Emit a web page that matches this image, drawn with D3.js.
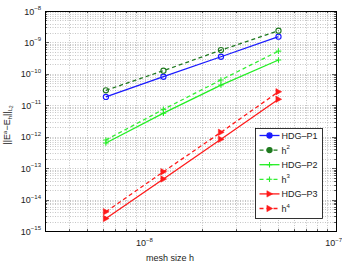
<!DOCTYPE html>
<html>
<head>
<meta charset="utf-8">
<script src="https://cdn.jsdelivr.net/npm/d3@7"></script>
<style>
  body { margin: 0; background: #fff; }
  text { font-family: "Liberation Sans", Arial, sans-serif; }
</style>
</head>
<body>
<div id="chart"></div>
<script>
// mesh sizes and errors
var meshSizes = [6.25e-9, 1.25e-8, 2.5e-8, 5e-8];
var errP1 = [1.84e-11, 8.1e-11, 3.5e-10, 1.52e-9];
var refH2 = [3.0e-11, 1.26e-10, 5.7e-10, 2.36e-9];
var errP2 = [6.3e-13, 5.6e-12, 4.4e-11, 2.76e-10];
var refH3 = [7.9e-13, 7.4e-12, 6.4e-11, 5.3e-10];
var errP3 = [2.5e-15, 4.5e-14, 8.3e-13, 1.55e-11];
var refH4 = [4.1e-15, 7.7e-14, 1.38e-12, 2.7e-11];
var seriesNames = ["HDG\u2013P1", "h", "HDG\u2013P2", "h", "HDG\u2013P3", "h"];
var seriesSup = ["", "2", "", "3", "", "4"];
var xTickExps = [-8, -7];
var yTickExps = [-15, -14, -13, -12, -11, -10, -9, -8];

var width = 342;
var height = 263;
var margin = {left: 45, right: 6, top: 11, bottom: 32};

var series = [
  {data: errP1, color: "#1a1aff", dash: null, marker: "circle"},
  {data: refH2, color: "#1f7a1f", dash: "4,3", marker: "circle"},
  {data: errP2, color: "#22ee22", dash: null, marker: "plus"},
  {data: refH3, color: "#33ee33", dash: "4,3", marker: "plus"},
  {data: errP3, color: "#ff1a1a", dash: null, marker: "tri"},
  {data: refH4, color: "#ff1a1a", dash: "4,3", marker: "tri"}
];

var svg = d3.select("#chart").append("svg")
  .attr("width", width)
  .attr("height", height);

var x = d3.scaleLog().domain([3e-9, 1e-7]).range([margin.left, width - margin.right]);
var y = d3.scaleLog().domain([1e-15, 1e-8]).range([height - margin.bottom, margin.top]);

var x0 = margin.left, x1 = width - margin.right;
var y0 = height - margin.bottom, y1 = margin.top;

// grid lines (major + minor), dotted
var xGrid = [];
[-9, -8].forEach(function(e) {
  for (var k = 1; k < 10; k++) {
    var v = k * Math.pow(10, e);
    if (v > 3e-9 && v < 1e-7) xGrid.push(v);
  }
});
var yGrid = [];
for (var e = -15; e < -8; e++) {
  for (var k = 1; k < 10; k++) {
    var v = k * Math.pow(10, e);
    if (v > 1e-15) yGrid.push(v);
  }
}

var grid = svg.append("g").attr("stroke", "#a0a0a0").attr("stroke-width", 0.6)
  .attr("stroke-dasharray", "1,1.5");
grid.selectAll("line.gx").data(xGrid).enter().append("line")
  .attr("x1", function(d) { return Math.round(x(d)) + 0.5; })
  .attr("x2", function(d) { return Math.round(x(d)) + 0.5; })
  .attr("y1", y0).attr("y2", y1);
grid.selectAll("line.gy").data(yGrid).enter().append("line")
  .attr("y1", function(d) { return Math.round(y(d)) + 0.5; })
  .attr("y2", function(d) { return Math.round(y(d)) + 0.5; })
  .attr("x1", x0).attr("x2", x1);

// ticks inside the box on all four sides
var ticks = svg.append("g").attr("stroke", "#000").attr("stroke-width", 0.6);
xGrid.forEach(function(d) {
  var px = Math.round(x(d)) + 0.5;
  ticks.append("line").attr("x1", px).attr("x2", px).attr("y1", y0).attr("y2", y0 - 2);
  ticks.append("line").attr("x1", px).attr("x2", px).attr("y1", y1).attr("y2", y1 + 2);
});
yGrid.forEach(function(d) {
  var major = Math.abs(Math.log10(d) - Math.round(Math.log10(d))) < 1e-6;
  var len = major ? 4 : 2;
  var py = Math.round(y(d)) + 0.5;
  ticks.append("line").attr("y1", py).attr("y2", py).attr("x1", x0).attr("x2", x0 + len);
  ticks.append("line").attr("y1", py).attr("y2", py).attr("x1", x1).attr("x2", x1 - len);
});

// tick labels with superscript exponents
function powLabel(g, px, py, exp, anchor) {
  var t = g.append("text").attr("x", px).attr("y", py)
    .attr("font-size", 9).attr("text-anchor", anchor).attr("fill", "#222");
  t.append("tspan").text("10");
  t.append("tspan").attr("dy", -4.5).attr("font-size", 6).text("\u2212" + Math.abs(exp));
}
var labels = svg.append("g");
yTickExps.forEach(function(e) {
  powLabel(labels, 41, y(Math.pow(10, e)) + 3.5, e, "end");
});
powLabel(labels, x(1e-8) - 9, y0 + 15, -8, "start");
powLabel(labels, 342, y0 + 15, -7, "end");

// axes box
svg.append("rect")
  .attr("x", x0 + 0.5).attr("y", y1 + 0.5)
  .attr("width", x1 - x0).attr("height", y0 - y1)
  .attr("fill", "none").attr("stroke", "#000").attr("stroke-width", 1);

// axis titles
svg.append("text").attr("x", 170).attr("y", 261)
  .attr("font-size", 9).attr("text-anchor", "middle").attr("fill", "#222")
  .text("mesh size h");

var yl = svg.append("text")
  .attr("transform", "translate(10,125) rotate(-90)")
  .attr("font-size", 9).attr("text-anchor", "middle").attr("fill", "#222");
yl.append("tspan").text("||E");
yl.append("tspan").attr("dy", -3.5).attr("font-size", 6).text("a");
yl.append("tspan").attr("dy", 3.5).text("\u2212E");
yl.append("tspan").attr("dy", 2).attr("font-size", 6).text("h");
yl.append("tspan").attr("dy", -2).text("||");
yl.append("tspan").attr("dy", 2).attr("font-size", 6).text("L");
yl.append("tspan").attr("dy", 1).attr("font-size", 4.5).text("2");

// markers
function drawMarker(g, kind, cx, cy, color, legend) {
  if (kind === "circle") {
    g.append("circle").attr("cx", cx).attr("cy", cy).attr("r", 2.6)
      .attr("fill", legend ? color : "none").attr("stroke", color).attr("stroke-width", 1.1);
  } else if (kind === "plus") {
    g.append("path").attr("d", "M" + (cx - 2.8) + "," + cy + "H" + (cx + 2.8) + "M" + cx + "," + (cy - 2.8) + "V" + (cy + 2.8))
      .attr("stroke", color).attr("stroke-width", 1.1).attr("fill", "none");
  } else {
    g.append("path").attr("d", "M" + (cx + 3.2) + "," + cy + "L" + (cx - 2.6) + "," + (cy - 3.2) + "L" + (cx - 2.6) + "," + (cy + 3.2) + "Z")
      .attr("fill", color).attr("stroke", color).attr("stroke-width", 0.5);
  }
}

var line = d3.line()
  .x(function(d, i) { return x(meshSizes[i]); })
  .y(function(d) { return y(d); });

var plot = svg.append("g");
series.forEach(function(s) {
  plot.append("path").datum(s.data)
    .attr("d", line)
    .attr("fill", "none")
    .attr("stroke", s.color)
    .attr("stroke-width", 1.3)
    .attr("stroke-dasharray", s.dash);
  s.data.forEach(function(v, i) {
    drawMarker(plot, s.marker, x(meshSizes[i]), y(v), s.color, false);
  });
});

// legend
var lg = svg.append("g");
var lx = 255.5, ly = 128.5, lw = 67, lh = 90;
lg.append("rect").attr("x", lx).attr("y", ly).attr("width", lw).attr("height", lh)
  .attr("fill", "#fff").attr("stroke", "#000").attr("stroke-width", 0.8);
series.forEach(function(s, i) {
  var yy = ly + 7 + i * 14.6;
  lg.append("line").attr("x1", lx + 4).attr("x2", lx + 24).attr("y1", yy).attr("y2", yy)
    .attr("stroke", s.color).attr("stroke-width", 1.3).attr("stroke-dasharray", s.dash);
  drawMarker(lg, s.marker, lx + 14, yy, s.color, true);
  var t = lg.append("text").attr("x", lx + 26).attr("y", yy + 3.5)
    .attr("font-size", 9).attr("fill", "#222");
  t.append("tspan").text(seriesNames[i]);
  if (seriesSup[i]) t.append("tspan").attr("dy", -4.5).attr("font-size", 6).text(seriesSup[i]);
});
</script>
</body>
</html>
